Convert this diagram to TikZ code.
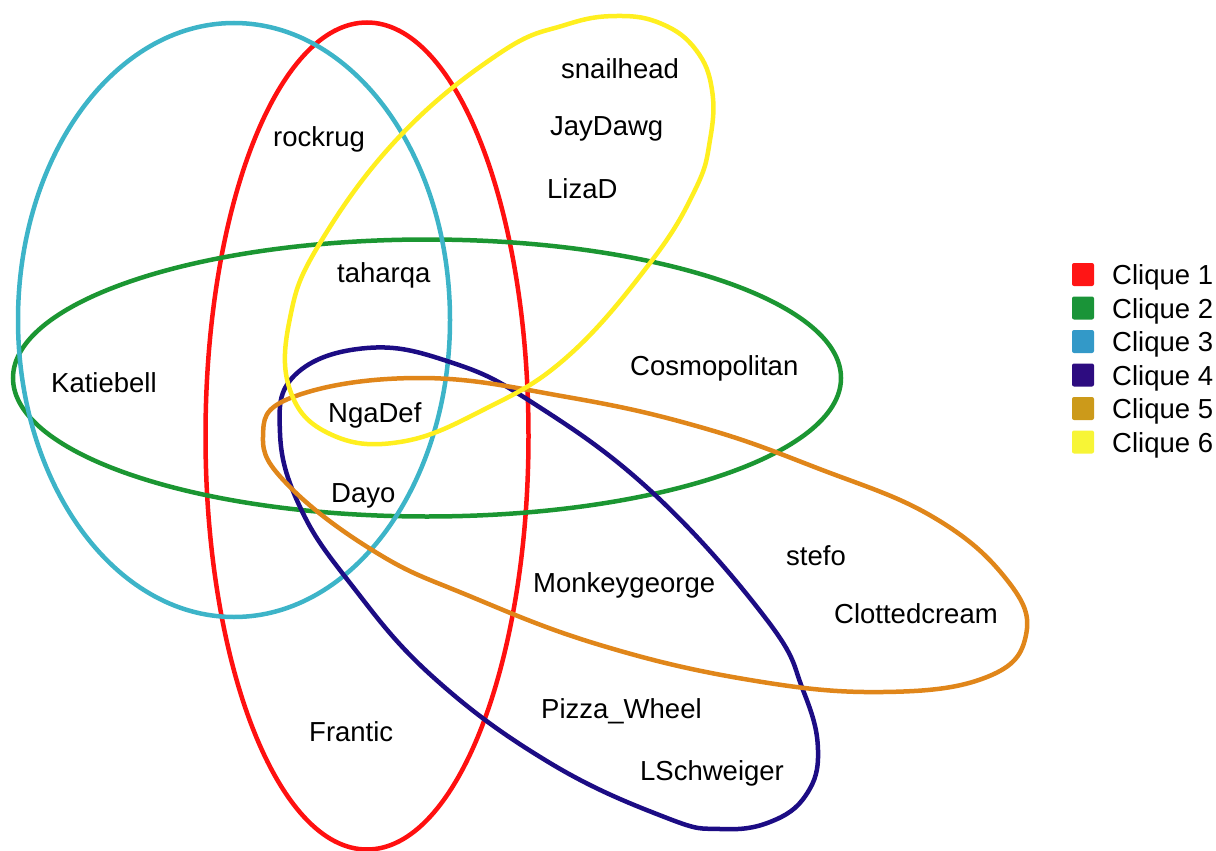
\documentclass[tikz,border=0pt]{standalone}
\usepackage{fontspec}
\setmainfont{Liberation Sans}
\definecolor{e1}{HTML}{FF1010}
\definecolor{e2}{HTML}{1B9632}
\definecolor{e3}{HTML}{3DB4C8}
\definecolor{e4}{HTML}{1C0C84}
\definecolor{e5}{HTML}{E0861A}
\definecolor{e6}{HTML}{FFEF1F}
\definecolor{l1}{HTML}{FF1515}
\definecolor{l2}{HTML}{1A9438}
\definecolor{l3}{HTML}{3399C8}
\definecolor{l4}{HTML}{2D0C80}
\definecolor{l5}{HTML}{CC9A1A}
\definecolor{l6}{HTML}{F7F536}
\tikzset{
  clq/.style={line width=4.5pt},
  lbl/.style={anchor=base west, inner sep=0pt, font=\fontsize{27.5pt}{33pt}\selectfont},
  key/.style={fill=#1, rounded corners=2pt, minimum width=22pt, minimum height=23pt, inner sep=0pt, draw=none},
}
\begin{document}
\begin{tikzpicture}[x=1pt,y=-1pt]
\useasboundingbox (0,0) rectangle (1216,851);
% Clique 1 (red)
\draw[clq, e1] (367,436) ellipse [x radius=161.5pt, y radius=413.5pt];
% Clique 2 (green)
\draw[clq, e2] (427,378) ellipse [x radius=414pt, y radius=138.5pt];
% Clique 3 (cyan)
\draw[clq, e3] (234,320) ellipse [x radius=216pt, y radius=297pt];
% Clique 4 (navy)
\draw[clq, e4] plot[smooth cycle, tension=0.7] coordinates {
 (367,348) (450,362) (533,403) (653,493) (767,620) (803,690) (818,750) (806,795)
 (770,822) (720,829) (667,818) (550,763) (433,677) (350,583) (300,507) (280,433) (295,375)};
% Clique 5 (orange)
\draw[clq, e5] plot[smooth cycle, tension=0.7] coordinates {
 (420,378) (567,397) (700,427) (817,468) (933,517) (1007,580) (1026,635) (987,677)
 (883,692) (750,680) (600,645) (467,595) (377,553) (290,487) (263,437) (293,397)};
% Clique 6 (yellow)
\draw[clq, e6] plot[smooth cycle, tension=0.7] coordinates {
 (617,16) (662,24) (696,50) (712,90) (710,140) (695,190) (650,263) (567,357)
 (483,410) (400,442) (330,434) (290,390) (290,318) (320,243) (400,136) (500,53) (565,25)};
% labels
\node[lbl] (rockrug) at (273,146) {rockrug};
\node[lbl] (snailhead) at (561,79) {snailhead};
\node[lbl] (jaydawg) at (550,135) {JayDawg};
\node[lbl] (lizad) at (547,198) {LizaD};
\node[lbl] (taharqa) at (337,282) {taharqa};
\node[lbl] (katiebell) at (51,392) {Katiebell};
\node[lbl] (ngadef) at (328,422) {NgaDef};
\node[lbl] (dayo) at (331,502) {Dayo};
\node[lbl] (cosmo) at (630,375) {Cosmopolitan};
\node[lbl] (monkey) at (533,592) {Monkeygeorge};
\node[lbl] (stefo) at (786,565) {stefo};
\node[lbl] (clotted) at (834,623) {Clottedcream};
\node[lbl] (frantic) at (309,741) {Frantic};
\node[lbl] (pizza) at (541,718) {Pizza\_Wheel};
\node[lbl] (lschw) at (640,780) {LSchweiger};
% legend
\foreach \i/\y in {1/274.5,2/308,3/341.5,4/375,5/408.5,6/442}{
  \node[key=l\i] (k\i) at (1083,\y) {};
  \node[lbl] (t\i) at (1112,\y+10) {Clique \i};
}
\end{tikzpicture}
\end{document}
